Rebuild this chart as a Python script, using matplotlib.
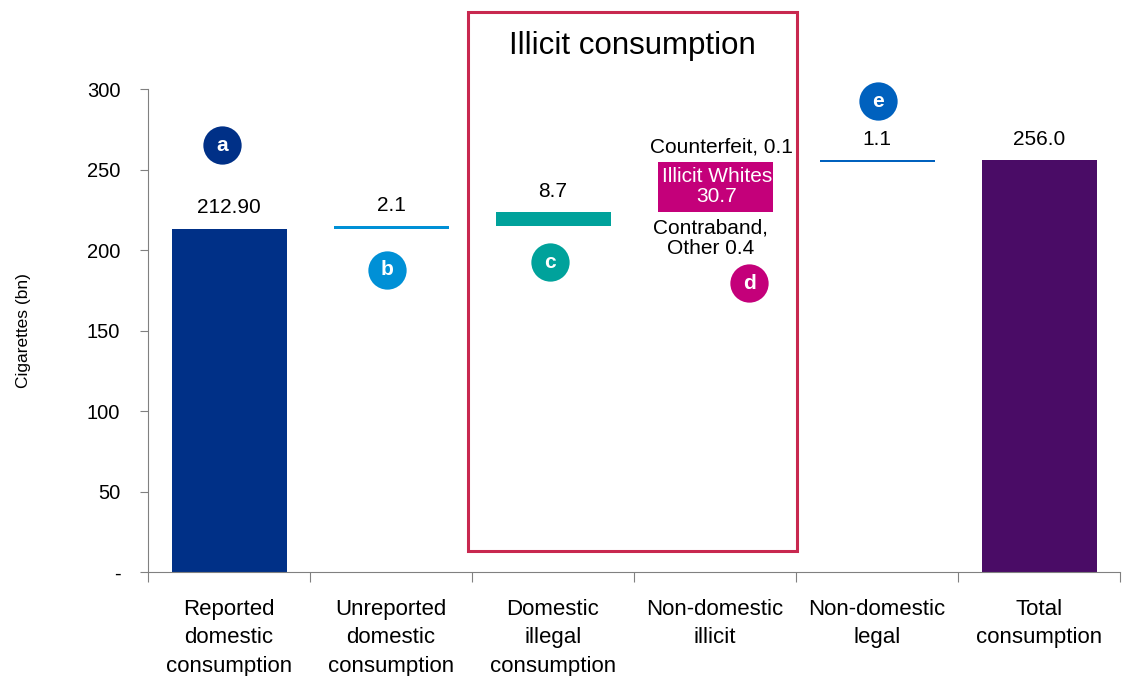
import matplotlib
matplotlib.use("Agg")
import matplotlib.pyplot as plt
from matplotlib.patches import Rectangle
import numpy as np

plt.rcParams['font.family'] = ['Liberation Sans', 'DejaVu Sans']

categories = ["Reported\ndomestic\nconsumption", "Unreported\ndomestic\nconsumption",
              "Domestic\nillegal\nconsumption", "Non-domestic\nillicit",
              "Non-domestic\nlegal", "Total\nconsumption"]
reported = 212.9
unreported = 2.1
domestic_illegal = 8.7
contraband_other = 0.4
illicit_whites = 30.7
counterfeit = 0.1
nondomestic_legal = 1.1
total = 256.0
yticks = [0, 50, 100, 150, 200, 250, 300]
yticklabels = ["-", "50", "100", "150", "200", "250", "300"]
circle_letters = ["a", "b", "c", "d", "e"]

c_a = "#003087"
c_b = "#0090D6"
c_c = "#00A29B"
c_d = "#C4007A"
c_e = "#0061BE"
c_tot = "#4A0C66"
c_box = "#C8284F"

fig = plt.figure(figsize=(11.25, 6.76), dpi=100)
ax = fig.add_axes([0.1316, 0.1538, 0.8640, 0.7145])
ax.set_xlim(-0.5, 5.5)
ax.set_ylim(0, 300)

w = 0.71
x = np.arange(len(categories))

# waterfall
b0 = 0
ax.bar(0, reported, w, bottom=b0, color=c_a)
b1 = reported
ax.bar(1, unreported, w, bottom=b1, color=c_b)
b2 = b1 + unreported
ax.bar(2, domestic_illegal, w, bottom=b2, color=c_c)
b3 = b2 + domestic_illegal
ax.bar(3, contraband_other, w, bottom=b3, color=c_d)
ax.bar(3, illicit_whites, w, bottom=b3 + contraband_other, color=c_d)
ax.bar(3, counterfeit, w, bottom=b3 + contraband_other + illicit_whites, color=c_d)
b4 = b3 + contraband_other + illicit_whites + counterfeit
ax.bar(4, nondomestic_legal, w, bottom=b4, color=c_e)
ax.bar(5, total, w, bottom=0, color=c_tot)

fs = 15
def lab(xp, ytop, txt, off=9):
    ax.annotate(txt, (xp, ytop), xytext=(0, off), textcoords="offset points",
                ha="center", va="bottom", fontsize=fs)

lab(0, reported, "212.90")
lab(1, b1 + unreported, f"{unreported:.1f}", 8)
lab(2, b2 + domestic_illegal, f"{domestic_illegal:.1f}", 8)
lab(4, b4 + nondomestic_legal, f"{nondomestic_legal:.1f}", 8)
lab(5, total, f"{total:.1f}", 8)
ax.annotate(f"Counterfeit, {counterfeit}", (3.04, b4), xytext=(0, 4), textcoords="offset points",
            ha="center", va="bottom", fontsize=fs)
ax.text(3.01, b3 + contraband_other + illicit_whites / 2, f"Illicit Whites\n{illicit_whites}",
        ha="center", va="center", fontsize=fs, color="white", linespacing=1.12)
ax.annotate(f"Contraband,\nOther {contraband_other}", (2.97, b3), xytext=(0, -5), textcoords="offset points",
            ha="center", va="top", fontsize=fs, linespacing=1.05)

# circles
circ_x = [-0.043, 0.975, 1.98, 3.21, 4.006]
circ_y = [265.2, 187.6, 192.5, 179.5, 292.5]
circ_c = [c_a, c_b, c_c, c_d, c_e]
for cx, cy, cc, lt in zip(circ_x, circ_y, circ_c, circle_letters):
    ax.scatter([cx], [cy], s=760, color=cc, zorder=5, clip_on=False, linewidths=0)
    ax.text(cx, cy, lt, ha="center", va="center", color="white", fontsize=15,
            fontweight="bold", zorder=6)

# illicit consumption box
ax.add_patch(Rectangle((1.475, 13.0), 2.031, 334.8, fill=False, edgecolor=c_box,
                       linewidth=2.2, clip_on=False, zorder=4))
ax.text(2.49, 327, "Illicit consumption", ha="center", va="center", fontsize=22.5)

# axes styling
for s in ["top", "right"]:
    ax.spines[s].set_visible(False)
ax.spines["left"].set_color("#808080")
ax.spines["bottom"].set_color("#808080")
ax.set_yticks(yticks)
ax.set_yticklabels(yticklabels, fontsize=14.5)
ax.tick_params(axis="y", length=6, color="#808080", pad=14)
ax.set_xticks(np.arange(-0.5, 6.0, 1.0))
ax.set_xticklabels([])
ax.tick_params(axis="x", length=7, color="#808080")
for xi, c in zip(x, categories):
    ax.text(xi, -0.055, c, transform=ax.get_xaxis_transform(), ha="center", va="top",
            fontsize=16, linespacing=1.48)
ax.set_ylabel("Cigarettes (bn)", fontsize=12.5, labelpad=40)

fig.savefig("out.png", dpi=100)
